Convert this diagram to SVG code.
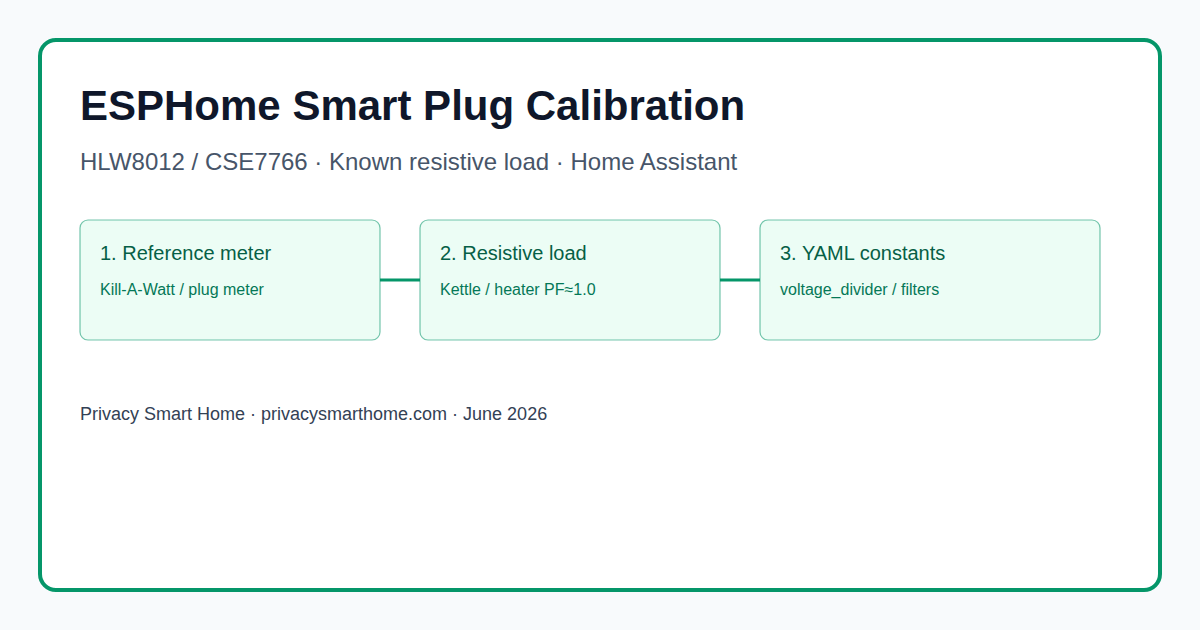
<svg xmlns="http://www.w3.org/2000/svg" width="1200" height="630" viewBox="0 0 1200 630">
<style>
text{font-family:"Liberation Sans",Arial,sans-serif}
.title{font-size:42px;font-weight:bold;fill:#0f172a}
.sub{font-size:24px;fill:#475569}
.box{fill:#ecfdf5;stroke:#059669;stroke-opacity:0.55;stroke-width:1.2}
.bt{font-size:20px;fill:#065f46}
.bs{font-size:16px;fill:#047857}
.conn{stroke:#059669;stroke-width:3}
.foot{font-size:18px;fill:#334155}
</style>
<rect width="1200" height="630" fill="#f8fafc"/>
<rect x="40" y="40" width="1120" height="550" rx="16" fill="#ffffff" stroke="#059669" stroke-width="4"/>
<text class="title" x="80" y="120">ESPHome Smart Plug Calibration</text>
<text class="sub" x="80" y="170">HLW8012 / CSE7766 · Known resistive load · Home Assistant</text>
<g id="connectors">
<line class="conn" x1="380" y1="280" x2="420" y2="280"/>
<line class="conn" x1="720" y1="280" x2="760" y2="280"/>
</g>
<g id="node1">
<rect class="box" x="80" y="220" width="300" height="120" rx="8"/>
<text class="bt" x="100" y="260">1. Reference meter</text>
<text class="bs" x="100" y="295">Kill-A-Watt / plug meter</text>
</g>
<g id="node2">
<rect class="box" x="420" y="220" width="300" height="120" rx="8"/>
<text class="bt" x="440" y="260">2. Resistive load</text>
<text class="bs" x="440" y="295">Kettle / heater PF≈1.0</text>
</g>
<g id="node3">
<rect class="box" x="760" y="220" width="340" height="120" rx="8"/>
<text class="bt" x="780" y="260">3. YAML constants</text>
<text class="bs" x="780" y="295">voltage_divider / filters</text>
</g>
<text class="foot" x="80" y="420">Privacy Smart Home · privacysmarthome.com · June 2026</text>
</svg>
